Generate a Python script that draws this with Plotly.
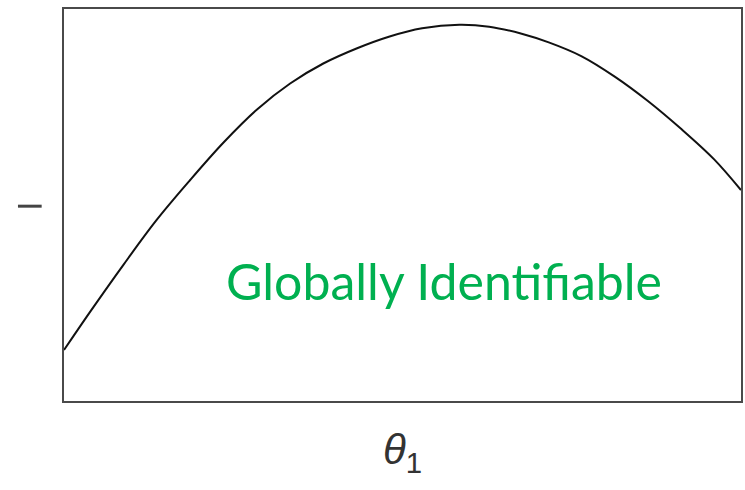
import plotly.graph_objects as go

# curve (theta_1 on 0..1, objective on 0..1)
theta = [0.0, 0.038, 0.088, 0.136, 0.185, 0.236, 0.286, 0.334, 0.383, 0.433,
         0.481, 0.529, 0.584, 0.628, 0.676, 0.716, 0.764, 0.814, 0.862, 0.911,
         0.960, 1.0]
value = [0.130, 0.226, 0.348, 0.460, 0.561, 0.660, 0.745, 0.810, 0.861, 0.900,
         0.930, 0.951, 0.960, 0.955, 0.937, 0.915, 0.880, 0.827, 0.766, 0.695,
         0.617, 0.538]

label_text = "Globally Identifiable"
x_title = "<i>θ</i><sub>1</sub>"

fig = go.Figure()
fig.add_trace(go.Scatter(
    x=theta, y=value, mode="lines",
    line=dict(color="#111111", width=2, shape="spline", smoothing=1.0),
    showlegend=False, hoverinfo="skip",
))

axis_common = dict(
    showgrid=False, zeroline=False, showticklabels=False, ticks="",
    showline=True, mirror=True, linecolor="#4a4a4a", linewidth=2,
    range=[0, 1], fixedrange=True,
)
fig.update_xaxes(**axis_common, title=dict(
    text=x_title, standoff=33,
    font=dict(family="Liberation Sans, Arial", size=42, color="#333333")))
fig.update_yaxes(**axis_common)

# green label inside the box
fig.add_annotation(
    text=label_text, xref="paper", yref="paper", x=0.561, y=0.305,
    xanchor="center", yanchor="middle", showarrow=False,
    font=dict(family="Lato", size=50, color="#00B050"),
)

# the lone dash left of the frame
fig.add_shape(type="line", xref="paper", yref="paper",
              x0=-0.068, x1=-0.033, y0=0.497, y1=0.497,
              line=dict(color="#444444", width=3))

fig.update_layout(
    width=745, height=490,
    margin=dict(l=64, r=2, t=9, b=89),
    paper_bgcolor="white", plot_bgcolor="white",
)

# drop the default 8px body margin so the figure fills the window exactly
fig.write_html("out.html", config={"displayModeBar": False},
               post_script="document.body.style.margin='0px';")
